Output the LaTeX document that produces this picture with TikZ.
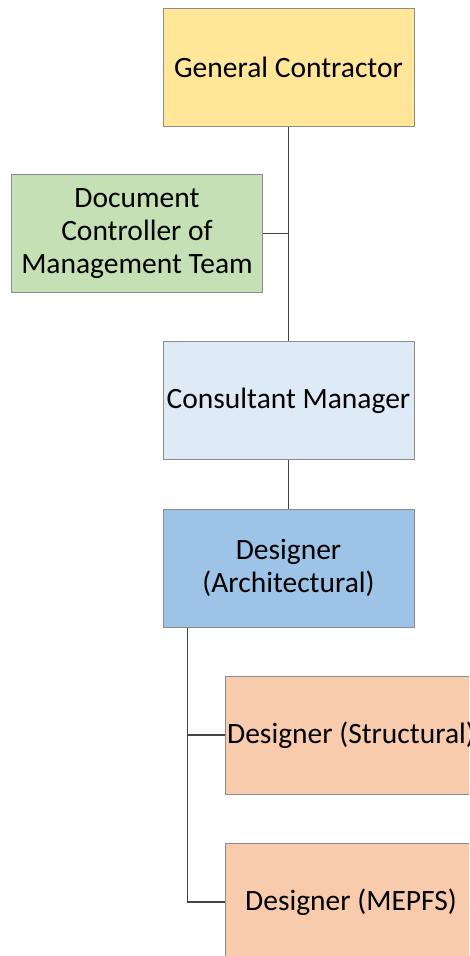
\documentclass[tikz,border=0pt]{standalone}
\usepackage{fontspec}
\setmainfont{Carlito}
\usetikzlibrary{calc}
\definecolor{gcfill}{HTML}{FFE699}
\definecolor{dcfill}{HTML}{C5E0B4}
\definecolor{cmfill}{HTML}{DEEBF7}
\definecolor{dafill}{HTML}{9DC3E6}
\definecolor{dsfill}{HTML}{F8CBAD}
\definecolor{edge}{HTML}{8C8C8C}
\definecolor{link}{HTML}{444444}
\tikzset{
  orgbox/.style={draw=edge, line width=1pt, rectangle, minimum width=251pt,
    minimum height=118pt, inner xsep=0pt, inner ysep=2pt, align=center,
    font=\fontsize{29.5}{33}\selectfont},
  orglink/.style={draw=link, line width=1.7pt}
}
\begin{document}
\begin{tikzpicture}[x=1pt,y=-1pt]
  \useasboundingbox (0,0) rectangle (469,956);
  \clip (0,0) rectangle (469,956);
  \fill[white] (0,0) rectangle (469,956);

  % boxes
  \node[orgbox, fill=gcfill] (gc) at (288.5,67) {General Contractor};
  \node[orgbox, fill=dcfill] (dc) at (137,233.5) {Document\\Controller of\\Management Team};
  \node[orgbox, fill=cmfill] (cm) at (288.5,400.5) {Consultant Manager};
  \node[orgbox, fill=dafill] (da) at (288.5,568) {Designer\\(Architectural)};
  \node[orgbox, fill=dsfill] (ds) at (351,735) {Designer (Structural)};
  \node[orgbox, fill=dsfill] (dm) at (351,902) {Designer (MEPFS)};

  % connectors
  \draw[orglink] (gc.south) -- (cm.north);
  \draw[orglink] (dc.east) -- (dc.east -| gc.south);
  \draw[orglink] (cm.south) -- (da.north);
  \coordinate (branch) at ($(da.south west)+(25,0)$);
  \draw[orglink] (branch) |- (ds.west);
  \draw[orglink] (branch) |- (dm.west);
\end{tikzpicture}
\end{document}
